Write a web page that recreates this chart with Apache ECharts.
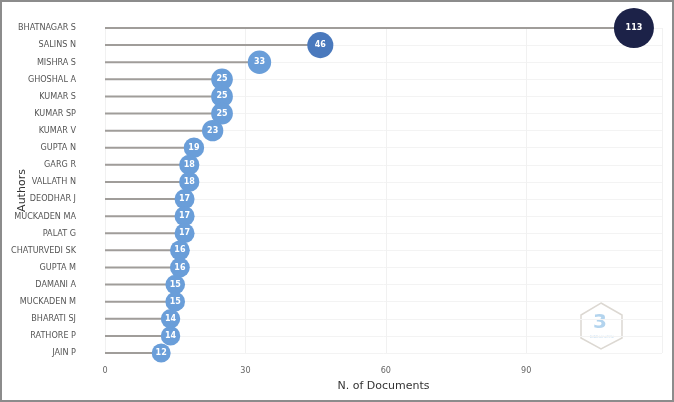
<!DOCTYPE html>
<html><head><meta charset="utf-8">
<script src="https://cdn.jsdelivr.net/npm/echarts@6/dist/echarts.min.js"></script>
<style>
html,body{margin:0;padding:0;background:#fff;}
#frame{width:674px;height:402px;box-sizing:border-box;border:2px solid #8c8c8c;position:relative;}
#c{position:absolute;left:-2px;top:-2px;width:674px;height:402px;}
</style></head>
<body><div id="frame"><div id="c"></div></div>
<script>
const authors = ["BHATNAGAR S","SALINS N","MISHRA S","GHOSHAL A","KUMAR S","KUMAR SP","KUMAR V","GUPTA N","GARG R","VALLATH N","DEODHAR J","MUCKADEN MA","PALAT G","CHATURVEDI SK","GUPTA M","DAMANI A","MUCKADEN M","BHARATI SJ","RATHORE P","JAIN P"];
const documents = [113,46,33,25,25,25,23,19,18,18,17,17,17,16,16,15,15,14,14,12];
const xTicks = [0,30,60,90];

const chart = echarts.init(document.getElementById('c'));
function sizeOf(v){ return 19 + (v-12)*21/101; }
function colorOf(v){ return v>100 ? '#1c2248' : (v>40 ? '#4a79bd' : '#6a9ed9'); }
const lblFont = "'DejaVu Sans Condensed','DejaVu Sans',sans-serif";
chart.setOption({
  animation:false,
  grid:{left:105,right:12,top:28,bottom:49,containLabel:false,outerBoundsMode:'none'},
  xAxis:{type:'value',min:0,max:119,interval:30,
    name:'N. of Documents',nameLocation:'middle',nameGap:28,nameMoveOverlap:false,
    nameTextStyle:{fontFamily:'DejaVu Sans',fontSize:11,color:'#333'},
    axisLine:{show:false},axisTick:{show:false},
    axisLabel:{fontFamily:lblFont,fontSize:9,color:'#666',margin:13,showMaxLabel:false,
      formatter:function(v){return xTicks.indexOf(v)>=0?String(v):'';}},
    splitLine:{show:true,lineStyle:{color:'#f1f1f1',width:1}}},
  yAxis:{type:'category',data:authors,inverse:true,boundaryGap:false,
    name:'Authors',nameLocation:'middle',nameGap:77,nameRotate:90,nameMoveOverlap:false,
    nameTextStyle:{fontFamily:'DejaVu Sans',fontSize:11,color:'#333'},
    axisLine:{show:false},axisTick:{show:false},
    axisLabel:{fontFamily:lblFont,fontSize:9,color:'#555',margin:29},
    splitLine:{show:true,lineStyle:{color:'#f3f3f3',width:1}}},
  series:[
    {type:'bar',data:documents,barWidth:2,itemStyle:{color:'#a09d9a'},silent:true,z:1},
    {type:'scatter',data:documents,z:3,
      symbolSize:function(v){return sizeOf(v);},
      itemStyle:{color:function(p){return colorOf(p.value);},opacity:1},
      label:{show:true,position:'inside',color:'#fff',fontFamily:'DejaVu Sans',fontSize:8,fontWeight:'bold',
        formatter:function(p){return String(p.value);}}}
  ],
  graphic:[
    {type:'polygon',shape:{points:[[601,303],[622,315],[622,338],[601,349],[581,338],[581,315]]},
     style:{fill:'none',stroke:'#dcd8d2',lineWidth:1.5},z:0},
    {type:'text',left:593,top:313,style:{text:'3',fontFamily:'DejaVu Sans',fontSize:20,fill:'#b3d4ee',fontWeight:'bold'},z:0},
    {type:'text',left:590,top:335,style:{text:'bibliometrix',fontFamily:'DejaVu Sans',fontSize:4,fill:'#c3dcf0'},z:0}
  ]
});
</script></body></html>
